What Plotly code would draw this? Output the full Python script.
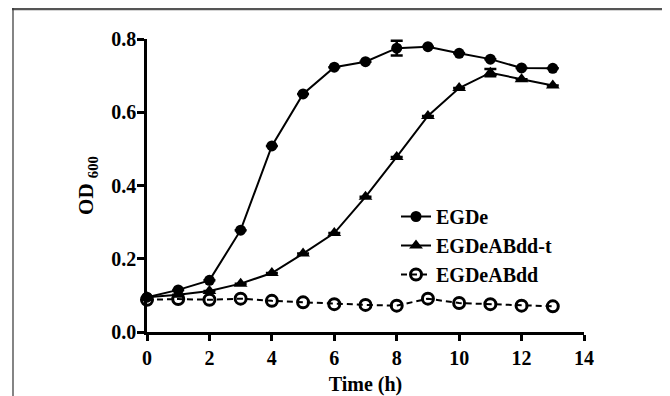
import plotly.graph_objects as go

time_h = [0, 1, 2, 3, 4, 5, 6, 7, 8, 9, 10, 11, 12, 13]
egde = [0.095, 0.115, 0.141, 0.278, 0.508, 0.650, 0.723, 0.738, 0.775, 0.779, 0.761, 0.745, 0.721, 0.720]
egde_err = [0, 0, 0, 0, 0, 0, 0, 0, 0.02, 0, 0, 0, 0, 0]
egdeabdd_t = [0.095, 0.102, 0.112, 0.132, 0.161, 0.214, 0.270, 0.369, 0.478, 0.590, 0.666, 0.708, 0.690, 0.673]
egdeabdd_t_err = [0, 0, 0, 0, 0, 0, 0, 0, 0, 0, 0, 0.01, 0, 0]
egdeabdd = [0.088, 0.090, 0.088, 0.091, 0.085, 0.081, 0.076, 0.074, 0.072, 0.091, 0.079, 0.076, 0.072, 0.070]

FONT = "Liberation Serif"
FS = 20

fig = go.Figure()
fig.add_trace(go.Scatter(
    x=time_h, y=egde, name="EGDe", mode="lines+markers",
    line=dict(color="black", width=2),
    marker=dict(symbol="circle", size=11, color="black"),
    error_y=dict(type="data", array=egde_err, color="black", thickness=2.5, width=6),
    cliponaxis=False, legendgroup="a"))
fig.add_trace(go.Scatter(
    x=time_h, y=egdeabdd_t, name="EGDeABdd-t", mode="lines+markers",
    line=dict(color="black", width=2),
    marker=dict(symbol="triangle-up", size=12, color="black"),
    error_y=dict(type="data", array=egdeabdd_t_err, color="black", thickness=2.5, width=6),
    cliponaxis=False, legendgroup="b"))
fig.add_trace(go.Scatter(
    x=time_h, y=egdeabdd, name="EGDeABdd", mode="lines+markers",
    line=dict(color="black", width=2, dash="6px,4px"),
    marker=dict(symbol="circle-open", size=11, color="black", line=dict(width=3, color="black")),
    cliponaxis=False, legendgroup="c"))

# page body has an 8px margin; figure coordinates = screen pixel - 8
OFF = 8
W, H = 670 - OFF, 396 - OFF
L = 147 - OFF
R = W - (584 - OFF)
T = 39 - OFF
B = H - (332 - OFF)
pw = W - L - R
ph = H - T - B

def px(x):
    return (x - OFF - L) / pw

def py(y):
    return (H - B - (y - OFF)) / ph

fig.update_layout(
    width=W, height=H,
    margin=dict(l=L, r=R, t=T, b=B, autoexpand=False),
    paper_bgcolor="white", plot_bgcolor="white",
    font=dict(family=FONT, size=FS, color="black", weight="bold"),
    showlegend=True,
    legend=dict(x=px(396), y=py(197), xanchor="left", yanchor="top",
                bgcolor="rgba(0,0,0,0)", traceorder="grouped", tracegroupgap=0,
                font=dict(family=FONT, size=FS, color="black", weight="bold")),
    xaxis=dict(range=[0, 14], tickvals=[0, 2, 4, 6, 8, 10, 12, 14],
               automargin=False,
               showline=True, linecolor="black", linewidth=2.5,
               ticks="outside", ticklen=6, tickwidth=2.5, tickcolor="black",
               showgrid=False, zeroline=False,
               tickfont=dict(family=FONT, size=FS, weight="bold"),
               title=dict(text="Time (h)", standoff=12,
                          font=dict(family=FONT, size=FS, weight="bold"))),
    yaxis=dict(range=[0, 0.8], tickvals=[0, 0.2, 0.4, 0.6, 0.8], tickformat=".1f",
               automargin=False,
               showline=True, linecolor="black", linewidth=2.5,
               ticks="outside", ticklen=7, tickwidth=2.5, tickcolor="black",
               ticklabelstandoff=-3,
               showgrid=False, zeroline=False,
               tickfont=dict(family=FONT, size=FS, weight="bold"),
               title=dict(text="OD <sub>600</sub>", standoff=12,
                          font=dict(family=FONT, size=21, weight="bold"))),
    shapes=[
        dict(type="line", xref="paper", yref="paper", x0=px(12), x1=px(680), y0=py(9), y1=py(9),
             line=dict(color="#555555", width=2.5)),
        dict(type="line", xref="paper", yref="paper", x0=px(13), x1=px(13), y0=py(8), y1=py(400),
             line=dict(color="#333333", width=1.2)),
    ],
)

fig.write_html("out.html")
